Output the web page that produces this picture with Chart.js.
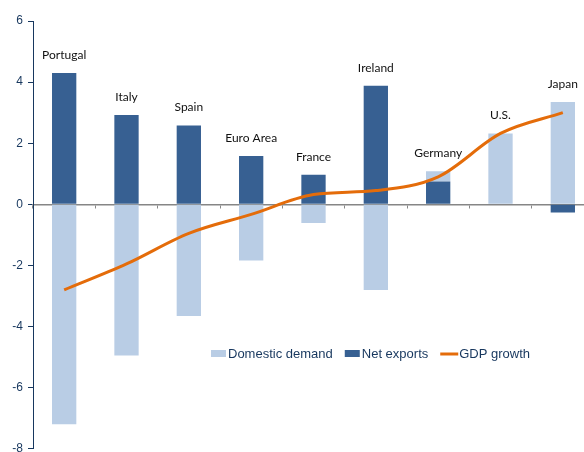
<!DOCTYPE html>
<html>
<head>
<meta charset="utf-8">
<script src="https://cdn.jsdelivr.net/npm/chart.js@4"></script>
<style>
  html, body { margin: 0; padding: 0; overflow: hidden; background: #fff; }
  #wrap { width: 594px; height: 461px; }
</style>
</head>
<body>
<div id="wrap"><canvas id="graph0"></canvas></div>
<script>
var countries = ['Portugal', 'Italy', 'Spain', 'Euro Area', 'France', 'Ireland', 'Germany', 'U.S.', 'Japan'];
var domesticDemand = [-7.2, -4.95, -3.65, -1.84, -0.61, -2.8, 0.33, 2.32, 3.35];
var netExports = [4.3, 2.92, 2.58, 1.58, 0.97, 3.88, 0.75, 0, -0.27];
var gdpGrowth = [-2.8, -1.95, -0.95, -0.33, 0.32, 0.45, 0.9, 2.32, 3.0];
var yTicks = [-8, -6, -4, -2, 0, 2, 4, 6];

var navy = '#17375E';
var lightBlue = '#B9CDE5';
var darkBlue = '#376092';
var orange = '#E46C0A';

// country names above the bars
var countryLabels = {
  id: 'countryLabels',
  afterDatasetsDraw: function(chart) {
    var ctx = chart.ctx;
    var metas = [chart.getDatasetMeta(0), chart.getDatasetMeta(1)];
    ctx.save();
    ctx.font = '12px Lato, "Open Sans", sans-serif';
    ctx.fillStyle = '#111';
    ctx.textAlign = 'center';
    ctx.textBaseline = 'middle';
    for (var i = 0; i < countries.length; i++) {
      var top = Infinity;
      var x = 0;
      metas.forEach(function(m) {
        var el = m.data[i];
        top = Math.min(top, el.y, el.base);
        x = el.x;
      });
      ctx.fillText(countries[i], x, top - 18);
    }
    ctx.restore();
  }
};

// legend sitting inside the plot
var innerLegend = {
  id: 'innerLegend',
  afterDraw: function(chart) {
    var ctx = chart.ctx;
    var order = [1, 0, 2];
    var x = 211;
    var y = 354;
    ctx.save();
    ctx.font = '13px "Liberation Sans", Arial, sans-serif';
    ctx.textBaseline = 'middle';
    ctx.textAlign = 'left';
    order.forEach(function(idx) {
      var ds = chart.data.datasets[idx];
      if (ds.type == 'line') {
        ctx.strokeStyle = ds.borderColor;
        ctx.lineWidth = 3;
        ctx.beginPath();
        ctx.moveTo(x, y);
        ctx.lineTo(x + 18, y);
        ctx.stroke();
        x += 19;
      } else {
        ctx.fillStyle = ds.backgroundColor;
        ctx.fillRect(x, y - 4, 15, 7);
        x += 17;
      }
      ctx.fillStyle = navy;
      ctx.fillText(ds.label, x, y);
      x += ctx.measureText(ds.label).width + 12;
    });
    ctx.restore();
  }
};

function drawChart() {
  var ctx = document.getElementById('graph0');
  new Chart(ctx, {
    type: 'bar',
    data: {
      labels: countries,
      datasets: [{
        label: 'Net exports',
        data: netExports,
        backgroundColor: darkBlue,
        barPercentage: 0.39,
        categoryPercentage: 1,
        order: 1
      }, {
        label: 'Domestic demand',
        data: domesticDemand,
        backgroundColor: lightBlue,
        barPercentage: 0.39,
        categoryPercentage: 1,
        order: 1
      }, {
        type: 'line',
        label: 'GDP growth',
        data: gdpGrowth,
        stack: 'gdp',
        borderColor: orange,
        backgroundColor: orange,
        borderWidth: 3,
        pointRadius: 0,
        cubicInterpolationMode: 'monotone',
        fill: false,
        order: 0
      }]
    },
    options: {
      responsive: true,
      maintainAspectRatio: false,
      animation: false,
      layout: { padding: { top: 21, right: 0, left: 0, bottom: 0 } },
      plugins: {
        legend: { display: false },
        tooltip: { enabled: false }
      },
      scales: {
        x: {
          stacked: true,
          position: { y: 0 },
          ticks: { display: false },
          grid: {
            drawOnChartArea: false,
            drawTicks: true,
            tickLength: 3,
            color: '#888'
          },
          border: { color: '#868686', width: 1.5 }
        },
        y: {
          stacked: true,
          min: -8,
          max: 6,
          afterBuildTicks: function(scale) {
            scale.ticks = yTicks.map(function(v) { return { value: v }; });
          },
          afterFit: function(scale) { scale.width = 33; },
          ticks: {
            color: navy,
            padding: 5,
            font: { family: '"Liberation Sans", Arial, sans-serif', size: 12 }
          },
          grid: {
            drawOnChartArea: false,
            drawTicks: true,
            tickLength: 5,
            color: navy
          },
          border: { color: navy, width: 1 }
        }
      }
    },
    plugins: [countryLabels, innerLegend]
  });
}

drawChart();
</script>
</body>
</html>
